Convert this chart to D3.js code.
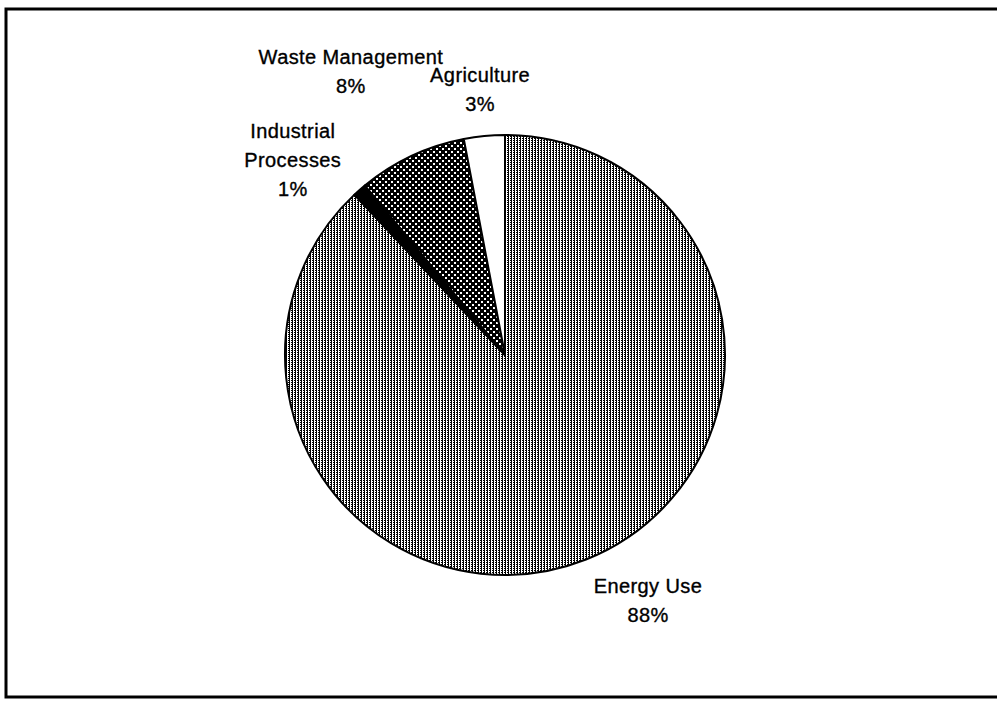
<!DOCTYPE html>
<html>
<head>
	<title>Emissions by Sector</title>
	<style type="text/css">
		body {
			margin: 0;
			background: #fff;
		}

		.label {
			font: 20px "Liberation Sans", Arial, sans-serif;
			letter-spacing: 0.4px;
			fill: #000;
			stroke: #000;
			stroke-width: 0.35px;
		}
	</style>
	<script src="https://d3js.org/d3.v7.min.js"></script>
</head>
<body>
<script type="text/javascript">
	// slice order, clockwise from 12 o'clock
	var categories = ["Energy Use", "Industrial Processes", "Waste Management", "Agriculture"];
	var shares = [88, 1, 8, 3];
	var labelLines = [["Energy Use", "88%"], ["Industrial", "Processes", "1%"], ["Waste Management", "8%"], ["Agriculture", "3%"]];

	// label placement: radius factor and angle nudge (degrees) from slice middle
	var labelRadius = [1.32, 1.29, 1.44, 1.18];
	var labelTurn = [-7.9, -7.0, -3.9, -0.1];
	var fills = ["url(#dots)", "#000", "url(#checks)", "#fff"];

	var svg = d3.select("body").append("svg")
		.attr("width", 997)
		.attr("height", 702);

	var defs = svg.append("defs");

	var dots = defs.append("pattern")
		.attr("id", "dots")
		.attr("patternUnits", "userSpaceOnUse")
		.attr("width", 3)
		.attr("height", 2);
	dots.append("rect").attr("width", 3).attr("height", 2).attr("fill", "#fff");
	dots.append("rect").attr("x", 0).attr("y", 0).attr("width", 1).attr("height", 2).attr("fill", "#000");
	dots.append("rect").attr("x", 2).attr("y", 1).attr("width", 1).attr("height", 1).attr("fill", "#000");

	var checks = defs.append("pattern")
		.attr("id", "checks")
		.attr("patternUnits", "userSpaceOnUse")
		.attr("width", 6)
		.attr("height", 6);
	checks.append("rect").attr("width", 6).attr("height", 6).attr("fill", "#000");
	checks.append("rect").attr("x", 0).attr("y", 0).attr("width", 2).attr("height", 2).attr("fill", "#fff");
	checks.append("rect").attr("x", 3).attr("y", 3).attr("width", 2).attr("height", 2).attr("fill", "#fff");

	// frame
	svg.append("rect")
		.attr("x", 6)
		.attr("y", 9)
		.attr("width", 1000)
		.attr("height", 688)
		.attr("fill", "none")
		.attr("stroke", "#000")
		.attr("stroke-width", 3);

	var cx = 505, cy = 355, r = 220;

	var pie = d3.pie().sort(null).value(function(d) { return d; });
	var arcs = pie(shares);
	var arc = d3.arc().innerRadius(0).outerRadius(r);

	var g = svg.append("g")
		.attr("transform", "translate(" + cx + "," + cy + ")");

	g.selectAll(".slice")
		.data(arcs)
		.enter().append("path")
		.attr("class", "slice")
		.attr("d", arc)
		.attr("fill", function(d, i) { return fills[i]; })
		.attr("stroke", "#000")
		.attr("stroke-width", 2)
		.attr("stroke-linejoin", "round");

	var lineHeight = 29;

	var labels = g.selectAll(".label")
		.data(arcs)
		.enter().append("text")
		.attr("class", "label")
		.attr("text-anchor", "middle")
		.attr("transform", function(d, i) {
			var a = (d.startAngle + d.endAngle) / 2 + labelTurn[i] * Math.PI / 180;
			var dist = r * labelRadius[i];
			var x = Math.sin(a) * dist;
			var y = -Math.cos(a) * dist;
			return "translate(" + x + "," + y + ")";
		});

	labels.each(function(d, i) {
		var lines = labelLines[i];
		var first = -(lines.length - 1) * lineHeight / 2;
		d3.select(this).selectAll("tspan")
			.data(lines)
			.enter().append("tspan")
			.attr("x", 0)
			.attr("y", function(t, j) { return first + j * lineHeight; })
			.text(function(t) { return t; });
	});
</script>
</body>
</html>
